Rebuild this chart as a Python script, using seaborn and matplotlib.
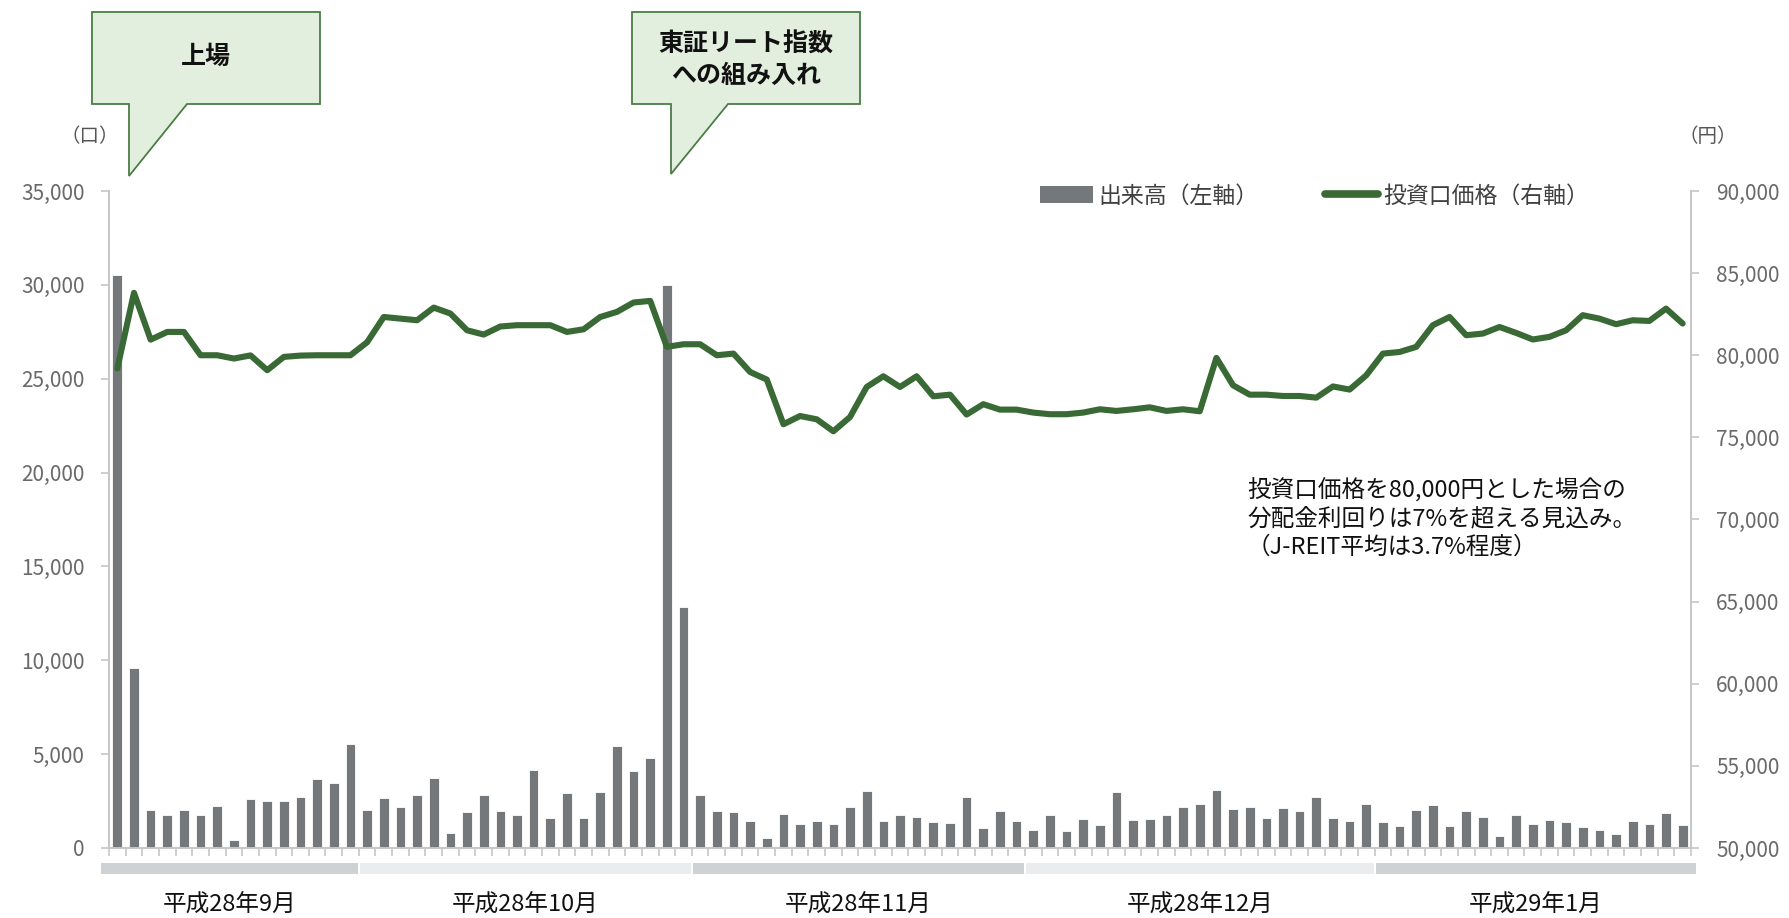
import numpy as np
import matplotlib
matplotlib.use("Agg")
import matplotlib.pyplot as plt
import matplotlib.transforms as mtransforms
from matplotlib.patches import Polygon, Rectangle, Patch
from matplotlib.lines import Line2D
import seaborn as sns

# --- Data ---
month_labels = ["平成28年9月", "平成28年10月", "平成28年11月", "平成28年12月", "平成29年1月"]
month_days = [15, 20, 20, 21, 19]

volume = [
    # 9月
    30500, 9600, 2000, 1750, 2030, 1750, 2250, 450, 2600, 2480, 2480, 2730, 3700, 3480, 5520,
    # 10月
    2040, 2660, 2200, 2800, 3710, 820, 1900, 2840, 1990, 1780, 4170, 1600, 2950, 1600, 3000,
    5430, 4120, 4810, 30000, 12850,
    # 11月
    2840, 1990, 1900, 1460, 550, 1830, 1260, 1460, 1260, 2200, 3020, 1460, 1740, 1650, 1370,
    1330, 2730, 1080, 1990, 1460,
    # 12月
    980, 1760, 890, 1540, 1240, 2960, 1510, 1540, 1780, 2200, 2360, 3090, 2080, 2170, 1620,
    2110, 1990, 2700, 1620, 1420, 2330,
    # 1月
    1370, 1190, 2010, 2290, 1190, 1950, 1630, 660, 1740, 1260, 1510, 1390, 1100, 980, 730,
    1420, 1280, 1850, 1240,
]

price = [
    # 9月
    79200, 83800, 80950, 81420, 81420, 80000, 80000, 79800, 79990, 79090, 79900, 79980, 80000,
    80000, 80000,
    # 10月
    80790, 82330, 82230, 82130, 82900, 82540, 81520, 81260, 81750, 81830, 81830, 81830, 81420,
    81580, 82330, 82640, 83210, 83310, 80510, 80670,
    # 11月
    80670, 80000, 80100, 78980, 78520, 75800, 76300, 76100, 75370, 76240, 78070, 78720, 78070,
    78720, 77500, 77600, 76390, 77020, 76690, 76690,
    # 12月
    76510, 76410, 76410, 76510, 76710, 76610, 76710, 76830, 76610, 76710, 76590, 79840, 78170,
    77600, 77600, 77520, 77520, 77420, 78100, 77910, 78780,
    # 1月
    80100, 80200, 80510, 81830, 82330, 81220, 81320, 81720, 81360, 80960, 81120, 81520, 82440,
    82230, 81890, 82130, 82090, 82840, 81930,
]

left_ticks = [0, 5000, 10000, 15000, 20000, 25000, 30000, 35000]
right_ticks = [50000, 55000, 60000, 65000, 70000, 75000, 80000, 85000, 90000]

bar_color = "#74787b"
line_color = "#396934"
axis_color = "#c6c6c6"
tick_text = "#6a6a6a"

# --- Style ---
sns.set_style("white")
plt.rcParams["font.family"] = ["Noto Sans CJK JP", "DejaVu Sans"]

W, H = 1790, 918
fig = plt.figure(figsize=(W / 100, H / 100), dpi=100)
ax = fig.add_axes([109 / W, 1 - 848 / H, (1691 - 109) / W, 657 / H])


def px(x, y):
    return (x / W, 1 - y / H)


idx = np.arange(len(volume))

# --- Bars (volume, left axis) ---
sns.barplot(x=idx, y=volume, ax=ax, color=bar_color, saturation=1,
            width=0.58, edgecolor="white", linewidth=0.6)

ax.set_xlim(-0.5, len(volume) - 0.5)
ax.set_ylim(0, 35000)
ax.set_yticks(left_ticks)
ax.set_yticklabels([f"{v:,}" for v in left_ticks])
ax.set_xticks(np.arange(-0.5, len(volume), 1))
ax.set_xticklabels([])
ax.set_xlabel("")
ax.set_ylabel("")

# --- Line (price, right axis) ---
ax2 = ax.twinx()
sns.lineplot(x=idx, y=price, ax=ax2, color=line_color, linewidth=4.4)
ax2.lines[0].set_solid_joinstyle("round")
ax2.lines[0].set_solid_capstyle("round")
ax2.set_ylim(50000, 90000)
ax2.set_yticks(right_ticks)
ax2.set_yticklabels([f"{v:,}" for v in right_ticks])
ax2.set_xlim(-0.5, len(volume) - 0.5)
ax2.set_ylabel("")
ax2.set_xlabel("")

for a in (ax, ax2):
    for s in a.spines.values():
        s.set_visible(False)
ax.spines["left"].set_visible(True)
ax.spines["bottom"].set_visible(True)
ax2.spines["right"].set_visible(True)
for s in (ax.spines["left"], ax.spines["bottom"], ax2.spines["right"]):
    s.set_color(axis_color)
    s.set_linewidth(1.4)

ax.tick_params(axis="y", left=True, direction="out", length=5.5, width=1.2,
               color=axis_color, labelcolor=tick_text, labelsize=15, pad=12)
ax.tick_params(axis="x", bottom=True, direction="out", length=6, width=1.2,
               color=axis_color)
ax2.tick_params(axis="y", right=True, direction="out", length=6, width=1.2,
                color=axis_color, labelcolor=tick_text, labelsize=15, pad=12)
ax2.tick_params(axis="x", bottom=False)

# --- Month bands and labels under the x axis ---
trans = mtransforms.blended_transform_factory(ax.transData, ax.transAxes)
edges = np.concatenate([[0], np.cumsum(month_days)]) - 0.5
band_colors = ["#cfd2d5", "#ebecee"]
for i, lab in enumerate(month_labels):
    x0 = edges[i] + 0.06
    x1 = edges[i + 1] - 0.06
    if i == 0:
        x0 = -1.0
    if i == len(month_labels) - 1:
        x1 = len(volume) - 0.2
    ax.add_patch(Rectangle((x0, -0.0396), x1 - x0, 0.0168, transform=trans,
                           facecolor=band_colors[i % 2], edgecolor="none", clip_on=False))
    ax.text((x0 + x1) / 2, -0.087, lab, transform=trans, ha="center", va="center",
            fontsize=17, color="#111111")

# --- Unit labels ---
fig.text(*px(90, 137), "（口）", ha="center", va="center", fontsize=14, color="#555555")
fig.text(*px(1708, 137), "（円）", ha="center", va="center", fontsize=14, color="#555555")

# --- Legend ---
handles = [Patch(facecolor=bar_color, edgecolor="none"),
           Line2D([0], [0], color=line_color, lw=5.5, solid_capstyle="round")]
fig.legend(handles, ["出来高（左軸）", "投資口価格（右軸）"], loc="center left",
           bbox_to_anchor=px(1040, 196), ncol=2, frameon=False, fontsize=16.5,
           handlelength=2.3, handletextpad=0.25, columnspacing=2.9,
           borderpad=0, borderaxespad=0, labelcolor="#404040")

# --- Callouts ---
callout_fill = "#e2efdf"
callout_edge = "#4b7d45"
c1 = [(92, 12), (320, 12), (320, 104), (187, 104), (129, 176), (129, 104), (92, 104)]
c2 = [(632, 12), (860, 12), (860, 104), (728, 104), (671, 174), (671, 104), (632, 104)]
for pts in (c1, c2):
    fig.patches.append(Polygon([px(x, y) for x, y in pts], closed=True,
                               transform=fig.transFigure, facecolor=callout_fill,
                               edgecolor=callout_edge, linewidth=1.3))
fig.text(*px(206, 57), "上場", ha="center", va="center", fontsize=18,
         fontweight="bold", color="#111111")
fig.text(*px(746, 45), "東証リート指数", ha="center", va="center", fontsize=18,
         fontweight="bold", color="#111111")
fig.text(*px(746, 76), "への組み入れ", ha="center", va="center", fontsize=18,
         fontweight="bold", color="#111111")

# --- Yield note ---
note_lines = ["投資口価格を80,000円とした場合の",
              "分配金利回りは7%を超える見込み。",
              "（J-REIT平均は3.7%程度）"]
for line, y in zip(note_lines, [490, 519, 547]):
    fig.text(*px(1247, y), line, ha="left", va="center", fontsize=17, color="#111111")

fig.savefig("out.png", dpi=100)
